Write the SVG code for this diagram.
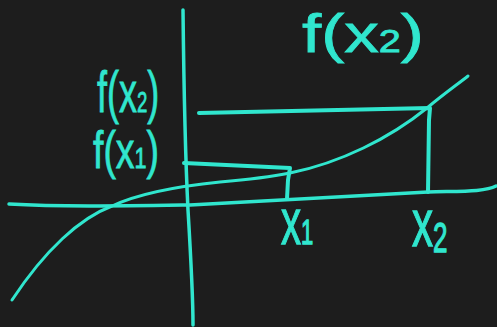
<svg xmlns="http://www.w3.org/2000/svg" width="497" height="327" viewBox="0 0 497 327">
<style>
.ln{fill:none;stroke:#30E6CE;stroke-linecap:round;stroke-linejoin:round}
.lb{fill:#30E6CE;font-family:"Liberation Sans","DejaVu Sans",sans-serif;stroke:#30E6CE;stroke-width:0.8}
</style>
<rect width="497" height="327" fill="#1d1d1d"/>
<g id="axes">
<path class="ln" stroke-width="3.5" d="M183,10 C184,100 186,170 188,210 C191,260 193,295 193,325"/>
<path class="ln" stroke-width="3.5" d="M9,204 C60,207 120,206 190,205 C290,200 380,194 428,192 C460,191 485,192 496,186"/>
</g>
<g id="curve">
<path class="ln" stroke-width="3" d="M12,300 C45,250 80,218 112,206 C140,193 180,186 220,182 C255,179 280,175 290,173 C340,163 390,138 427,108 C445,93 458,84 468,76"/>
</g>
<g id="connectors">
<path class="ln" stroke-width="4" d="M199,113 L430,108 L429,120 L428,192"/>
<path class="ln" stroke-width="4" d="M184,163 L290,168 L288,180 L287,199"/>
</g>
<g id="label-top"><text class="lb" transform="translate(302,52) scale(1.28,1)" font-size="54">f(x<tspan font-size="31">2</tspan>)</text></g>
<g id="label-fx2"><text class="lb" transform="translate(97,112) scale(0.62,1)" font-size="58">f(x<tspan font-size="30">2</tspan>)</text></g>
<g id="label-fx1"><text class="lb" transform="translate(93,168) scale(0.72,1)" font-size="52">f(x<tspan font-size="30">1</tspan>)</text></g>
<g id="label-x1"><text class="lb" transform="translate(281,244) scale(1,1.6)" font-size="40">x<tspan font-size="22">1</tspan></text></g>
<g id="label-x2"><text class="lb" transform="translate(412,246) scale(1,1.6)" font-size="42">x<tspan font-size="26" dy="4">2</tspan></text></g>
</svg>
